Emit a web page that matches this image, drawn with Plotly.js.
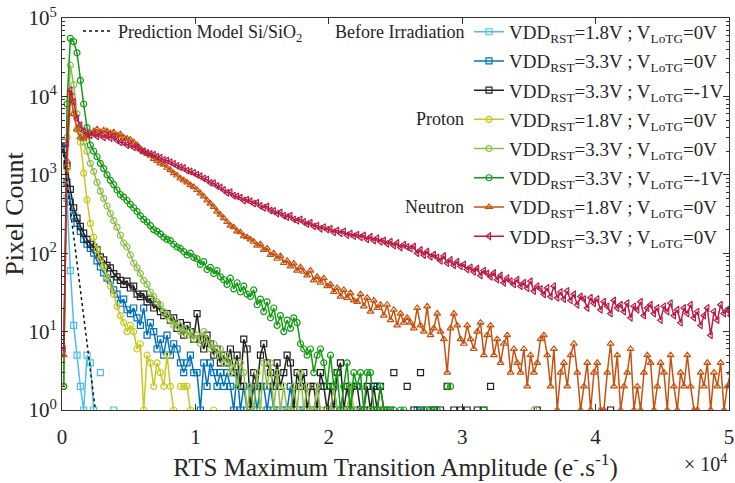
<!DOCTYPE html>
<html>
<head>
<meta charset="utf-8">
<script src="https://cdn.plot.ly/plotly-3.0.1.min.js"></script>
<style>html,body{margin:0;padding:0;background:#fff;}#chart{width:735px;height:483px;}</style>
</head>
<body>
<div id="chart"></div>
<script>
// Bin width (x in units of 1e4 e-/s)
const binWidth = 0.025;

// Series names
const seriesNames = [
  "VDD<sub>RST</sub>=1.8V ; V<sub>LoTG</sub>=0V",
  "VDD<sub>RST</sub>=3.3V ; V<sub>LoTG</sub>=0V",
  "VDD<sub>RST</sub>=3.3V ; V<sub>LoTG</sub>=-1V",
  "VDD<sub>RST</sub>=1.8V ; V<sub>LoTG</sub>=0V",
  "VDD<sub>RST</sub>=3.3V ; V<sub>LoTG</sub>=0V",
  "VDD<sub>RST</sub>=3.3V ; V<sub>LoTG</sub>=-1V",
  "VDD<sub>RST</sub>=1.8V ; V<sub>LoTG</sub>=0V",
  "VDD<sub>RST</sub>=3.3V ; V<sub>LoTG</sub>=0V"
];
const groupLabels = ["Before Irradiation", "Proton", "Neutron"];
const predictionName = "Prediction Model Si/SiO<sub>2</sub>";

// Pixel counts per bin (null = empty bin)
const beforeLow = [2600, 500, 60, 12, 5, 2, 1, 5, 4, 1, null, 3, null, null, null, 1];

const before33 = [
  2600, 800, 450, 300, 240, 190, 150, 130,
  115, 100, 80, 67, 56, 48, 45, 34,
  30, 23, 26, 19, 17, 20, 15, 12,
  20, 9, 13, 10, 6, 8, 5, 9,
  5, 7, 6, 4, 3, 4, 5, 3,
  3, 1, 4, 2, 4, 3, 2, 3,
  2, 3, 2, 1, 3, 1, 2, 1,
  1, 2, 1, 2, 2, 1, 2, 1,
  1, null, 1, 1, 2, 1, null, 1,
  1, null, null, 1, 1, null, 2, null,
  1, 2, 1, null, 1, 1, null, null,
  1, 1, null, null, null, 2, 2, null,
  null, null, 1, null, null, null, null, null,
  null, null, 1, 1, null, null, null, 1
];

const before33m1 = [
  2100, 1300, 650, 380, 280, 220, 180, 150,
  130, 120, 110, 90, 82, 70, 65, 55,
  50, 45, 40, 44, 36, 38, 30, 28,
  30, 24, 26, 20, 22, 18, 16, 17,
  14, 15, 11, 13, 9, 12, 10, 8,
  17, 8, 6, 9, 7, 5, 6, 4,
  5, 4, 6, 3, 5, 2, 8, 6,
  1, 3, 2, 5, 7, 4, 3, 2,
  4, 2, 3, 5, 4, 1, 3, 2,
  3, 1, 2, 2, 1, 3, 2, 1,
  2, 1, 3, 4, 1, 2, 1, 2,
  2, 1, 1, 2, 1, 2, 1, 2,
  1, null, null, 3, null, null, null, 2,
  null, 1, null, 3, null, 1, null, 1,
  null, 1, null, 2, null, 1, null, 1,
  null, 1, null, null, 1, null, 1, null,
  2, null, null, null, null, null, null, null,
  null, null, null, null, null, null, 1, null,
  null, null, null, null, null, null, null, null,
  null, null, null, null, null, null, null, null,
  null, null, null, null, 1
];

const proton18 = [
  2, 1200, 10000, 6000, 3800, 2600, 1050, 480,
  240, 160, 110, 85, 67, 50, 38, 30,
  21, 16, 13, 10, 12, 10, 6, 7,
  1, 5, 4, 2, 4, 3, 2, 5,
  2, 1, null, 2, 2, 2, 1, null,
  null, null, null, null, null, 1
];

const proton33 = [
  2, 3000, 25000, 14000, 6000, 3500, 2600, 2000,
  1400, 1100, 800, 620, 500, 400, 320, 260,
  215, 170, 135, 120, 95, 75, 65, 55,
  45, 40, 32, 28, 24, 22, 18, 16,
  14, 12, 13, 10, 11, 9, 10, 8,
  9, 7, 10, 8, 6, 7, 5, 6,
  4, 5, 3, 4, 2, 4, 3, 1,
  2, 1, 3, 1, 4, 2, 4, 1,
  3, 1, 2, 1, 1, 2, 1, 3,
  1, 2, 1, 1, 2, 1, null, 1,
  1, 2, 1, null, 1, 1, 2, 1,
  null, 1, 1, null, 1, null, 1, 1,
  1, null, null, null, null, null, null, null,
  null, null, null, null, null, null, null, null,
  null, null, null, null, null, null, null, null,
  null, null, null, null, null, null, null, null,
  null, null, null, null, null, null, null, null,
  null, null, null, null, null, 1
];

const proton33m1 = [
  2, 8000, 55000, 50000, 36000, 16000, 8000, 4000,
  2400, 2000, 1700, 1400, 1200, 1000, 850, 750,
  640, 560, 520, 470, 420, 380, 340, 300,
  270, 250, 225, 200, 190, 175, 160, 150,
  145, 130, 120, 115, 105, 95, 100, 88,
  85, 72, 78, 62, 66, 55, 60, 50,
  46, 40, 48, 35, 42, 32, 38, 30,
  28, 34, 22, 26, 18, 24, 15, 20,
  12, 16, 10, 14, 11, 15, 13, 7,
  6, 5, 6, 3, 5, 6, 4, 2,
  5, 2, 3, 1, 2, 4, 1, 3,
  2, 3, 1, 3, 3, 1, 1, 2,
  1, 1, 1, 1, null, 1, 1, null,
  null, null, null, 1, 1, null, 1, 1,
  1, null, null, 2, 2, null, null, null,
  null, null, null, null, null, null, 1, null
];

const neutron18 = [
  5, 1500, 11000, 6000, 3800, 3000, 2900, 3100,
  3400, 3600, 3800, 3500, 3700, 3600, 3400, 3500,
  3200, 3300, 3000, 2900, 2800, 2600, 2400, 2150,
  1950, 1850, 1750, 1600, 1500, 1400, 1350, 1230,
  1150, 1050, 980, 900, 850, 800, 740, 700,
  640, 580, 530, 470, 430, 390, 340, 310,
  280, 250, 225, 215, 190, 185, 165, 160,
  150, 140, 125, 130, 110, 115, 95, 100,
  85, 92, 75, 80, 68, 74, 60, 66,
  58, 52, 60, 45, 50, 42, 48, 38,
  40, 32, 36, 28, 34, 27, 31, 25,
  24, 30, 21, 27, 18, 25, 20, 22,
  16, 22, 14, 19, 12, 17, 13, 15,
  13, 11, 20, 12, 10, 21, 9, 11,
  17, 10, 8, 3, 11, 17, 12, 8,
  7, 12, 8, 6, 10, 13, 5, 9,
  12, 5, 8, 4, 7, 9, 3, 6,
  4, 3, 6, 2, 5, 3, 4, 8,
  9, 5, 2, 6, 1, 3, 4, 2,
  5, 7, 3, 1, 2, 4, 1, 3,
  4, 1, 1, 3, 7, 2, 5, 1,
  2, 3, 6, 1, 2, 1, 3, 5,
  4, 1, 2, 4, 3, 1, 5, 2,
  1, 3, 2, 5, 2, 1, 1, 3,
  2, 4, 1, 3, 2, 4, 1, 2,
  3
];

const neutron33 = [
  6, 2500, 12000, 8500, 5200, 4300, 3600, 3300,
  3200, 3350, 3100, 3250, 3000, 3150, 2950, 3050,
  2750, 2600, 2600, 2400, 2400, 2250, 2250, 2050,
  2000, 1900, 1850, 1800, 1700, 1650, 1550, 1520,
  1450, 1380, 1300, 1250, 1220, 1130, 1100, 1060,
  1000, 960, 900, 870, 790, 780, 720, 690,
  640, 590, 600, 540, 530, 510, 470, 480,
  460, 430, 440, 400, 380, 395, 350, 345,
  320, 330, 300, 290, 300, 270, 260, 270,
  250, 235, 245, 220, 225, 205, 215, 200,
  205, 185, 195, 180, 190, 170, 178, 165,
  172, 160, 168, 150, 162, 145, 155, 140,
  145, 132, 140, 125, 135, 118, 128, 120,
  115, 122, 100, 110, 95, 105, 90, 96,
  88, 80, 92, 75, 82, 70, 78, 68,
  72, 62, 66, 58, 64, 52, 60, 55,
  50, 56, 46, 52, 42, 48, 44, 40,
  46, 38, 42, 36, 44, 33, 38, 35,
  30, 36, 28, 38, 27, 32, 26, 33,
  25, 30, 22, 28, 26, 20, 27, 23,
  26, 19, 24, 21, 17, 25, 20, 22,
  18, 23, 15, 21, 19, 24, 16, 20,
  22, 17, 20, 14, 21, 18, 23, 16,
  19, 13, 20, 17, 22, 15, 18, 12,
  16, 20, 9, 18, 14, 22, 17, 19,
  16
];

// Prediction model end points
const predictionX = [0, 0.25];
const predictionY = [2600, 1];

const xTickVals = [0, 1, 2, 3, 4, 5];
const yTickVals = [1, 10, 100, 1000, 10000, 100000];
const yTickText = ["10<sup>0</sup>", "10<sup>1</sup>", "10<sup>2</sup>", "10<sup>3</sup>", "10<sup>4</sup>", "10<sup>5</sup>"];

const seriesData = [beforeLow, before33, before33m1, proton18, proton33, proton33m1, neutron18, neutron33];
const colors = ['#4DBEEE', '#0072BD', '#222222', '#C8C81E', '#8DBF4A', '#139A13', '#C6520F', '#B81D45'];
const symbols = ['square-open', 'square-open', 'square-open', 'circle-open', 'circle-open', 'circle-open', 'triangle-up-open', 'triangle-left-open'];

const FONT = 'Liberation Serif, Times New Roman, serif';
const TXT = '#262626';

const traces = [];
seriesData.forEach((vals, k) => {
  traces.push({
    type: 'scatter', mode: 'lines+markers',
    x: vals.map((v, i) => (i + 0.5) * binWidth),
    y: vals,
    name: seriesNames[k],
    legendgroup: 'g' + k,
    line: {color: colors[k], width: 1.5},
    marker: {symbol: symbols[k], size: 6, color: colors[k], line: {color: colors[k], width: 1.2}},
    connectgaps: false,
    legend: 'legend'
  });
});
traces.push({
  type: 'scatter', mode: 'lines',
  x: predictionX, y: predictionY,
  name: predictionName,
  line: {color: '#111', width: 1.5, dash: 'dot'},
  legend: 'legend2'
});

const minorVals = [];
for (let e = 0; e < 5; e++) for (let m = 2; m <= 9; m++) minorVals.push(m * Math.pow(10, e));

const layout = {
  width: 735, height: 483,
  margin: {l: 62, r: 6, t: 18, b: 73},
  paper_bgcolor: '#fff', plot_bgcolor: '#fff',
  font: {family: FONT, size: 18, color: TXT},
  showlegend: true,
  xaxis: {
    range: [0, 5], tickvals: xTickVals, ticktext: xTickVals.map(String),
    ticks: 'inside', ticklen: 6, tickcolor: '#333', showline: true, linecolor: '#333', linewidth: 1,
    mirror: 'ticks', showgrid: false, zeroline: false, ticklabeloverflow: 'allow',
    tickfont: {family: FONT, size: 21, color: TXT}, ticklabelstandoff: 8,
    title: {text: 'RTS Maximum Transition Amplitude (e<sup>-</sup>.s<sup>-1</sup>)', font: {family: FONT, size: 25, color: TXT}, standoff: 2}
  },
  yaxis: {
    type: 'log', range: [0, 5], tickvals: yTickVals, ticktext: yTickText,
    ticks: 'inside', ticklen: 6, tickcolor: '#333', showline: true, linecolor: '#333', linewidth: 1,
    mirror: 'ticks', showgrid: false, zeroline: false, ticklabeloverflow: 'allow',
    minor: {tickvals: minorVals, ticks: 'inside', ticklen: 3, tickcolor: '#333', showgrid: false},
    tickfont: {family: FONT, size: 21, color: TXT},
    title: {text: 'Pixel Count', font: {family: FONT, size: 26, color: TXT}, standoff: 2}
  },
  legend: {
    x: 1, xanchor: 'right', y: 1.013, yanchor: 'top', bgcolor: 'rgba(0,0,0,0)',
    font: {family: FONT, size: 19, color: TXT}, itemwidth: 30, tracegroupgap: 1.5
  },
  legend2: {
    x: 0.024, xanchor: 'left', y: 1.013, yanchor: 'top', bgcolor: 'rgba(0,0,0,0)',
    font: {family: FONT, size: 18, color: TXT}, itemwidth: 30
  },
  annotations: [
    {text: groupLabels[0], xref: 'paper', yref: 'paper', x: 0.605, y: 0.964, xanchor: 'right', yanchor: 'middle', showarrow: false, font: {family: FONT, size: 18, color: TXT}},
    {text: groupLabels[1], xref: 'paper', yref: 'paper', x: 0.605, y: 0.743, xanchor: 'right', yanchor: 'middle', showarrow: false, font: {family: FONT, size: 18, color: TXT}},
    {text: groupLabels[2], xref: 'paper', yref: 'paper', x: 0.605, y: 0.517, xanchor: 'right', yanchor: 'middle', showarrow: false, font: {family: FONT, size: 18, color: TXT}},
    {text: '× 10<sup>4</sup>', xref: 'paper', yref: 'paper', x: 1.0, y: -0.135, xanchor: 'right', yanchor: 'middle', showarrow: false, font: {family: FONT, size: 20, color: TXT}}
  ]
};

Plotly.newPlot('chart', traces, layout, {displayModeBar: false, staticPlot: true});
</script>
</body>
</html>
